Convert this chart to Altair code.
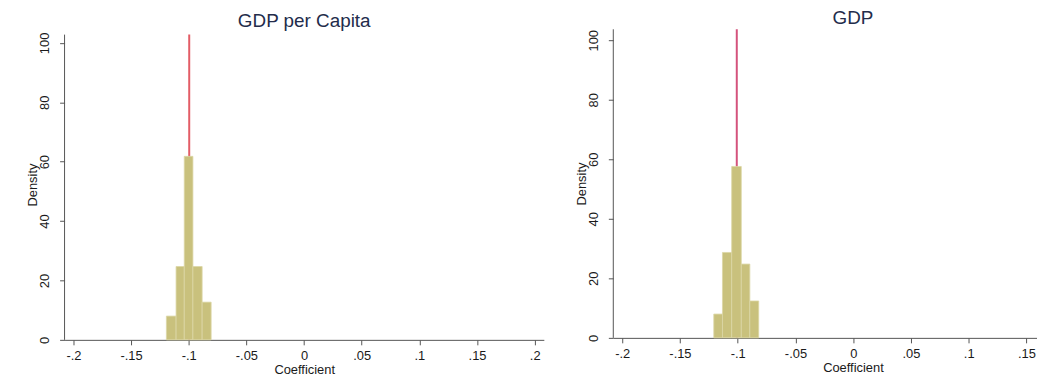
import altair as alt
import pandas as pd

# ---- data ----
x_tick_values = [-0.2, -0.15, -0.1, -0.05, 0, 0.05, 0.1, 0.15, 0.2]
y_tick_values = [0, 20, 40, 60, 80, 100]

pc_bin_start = [-0.1194, -0.1110, -0.1039, -0.0964, -0.0884]
pc_bin_end = [-0.1110, -0.1039, -0.0964, -0.0884, -0.0806]
pc_density = [8.0, 24.7, 61.8, 24.7, 12.7]
pc_line = -0.0996

gdp_bin_start = [-0.1207, -0.1132, -0.1052, -0.0969, -0.0895]
gdp_bin_end = [-0.1132, -0.1052, -0.0969, -0.0895, -0.0818]
gdp_density = [8.0, 28.7, 57.6, 24.8, 12.4]
gdp_line = -0.1008

FONT = "Liberation Sans"
AXIS_COLOR = "#555555"
TEXT_COLOR = "#1a1a1a"
BAR_FILL = "#c9c17d"
BAR_STROKE = "#dcd7a6"

LABEL_EXPR = ("replace(replace(replace(format(datum.value, '.2~f'), '\u2212', '-'), "
              "'-0.', '-.'), '0.', '.')")


def panel(title_text, starts, ends, dens, line_x, line_color,
          x_dom, y_top, axis_top, width, height, title_dx, title_dy,
          title_offset, axis_title_x):
    bars_df = pd.DataFrame({"start": starts, "end": ends, "density": dens,
                            "base": [0.0] * len(dens)})
    line_df = pd.DataFrame({"coef": [line_x], "top": [axis_top], "bottom": [0.0]})
    yline_df = pd.DataFrame({"coef": [x_dom[0]], "top": [axis_top], "bottom": [0.0]})

    xscale = alt.Scale(domain=x_dom, nice=False, zero=False)
    yscale = alt.Scale(domain=[0, y_top], nice=False, zero=False)

    xaxis_kw = dict(values=x_tick_values, labelExpr=LABEL_EXPR, title="Coefficient",
                    grid=False, labelFlush=False, labelOverlap=False,
                    tickSize=5, labelPadding=5, titlePadding=1)
    if axis_title_x is not None:
        xaxis_kw["titleX"] = axis_title_x
    xaxis = alt.Axis(**xaxis_kw)
    yaxis = alt.Axis(values=y_tick_values, title="Density", grid=False,
                     labelAngle=270, labelAlign="center", labelBaseline="bottom",
                     labelFlush=False, labelOverlap=False, domain=False,
                     tickSize=5, labelPadding=8, titlePadding=-1)

    yline = alt.Chart(yline_df).mark_rule(color=AXIS_COLOR, strokeWidth=1).encode(
        x=alt.X("coef:Q", scale=xscale, axis=xaxis),
        y=alt.Y("top:Q", scale=yscale, axis=yaxis),
        y2="bottom:Q",
    )
    red = alt.Chart(line_df).mark_rule(color=line_color, strokeWidth=2).encode(
        x=alt.X("coef:Q", scale=xscale),
        y=alt.Y("top:Q", scale=yscale),
        y2="bottom:Q",
    )
    bars = alt.Chart(bars_df).mark_bar(
        fill=BAR_FILL, stroke=BAR_STROKE, strokeWidth=0.8, opacity=1
    ).encode(
        x=alt.X("start:Q", scale=xscale),
        x2="end:Q",
        y=alt.Y("density:Q", scale=yscale),
        y2="base:Q",
    )
    return alt.layer(yline, red, bars).properties(
        width=width,
        height=height,
        title=alt.TitleParams(
            title_text, fontSize=19, font=FONT, fontWeight="normal",
            color="#232c4b", anchor="middle", offset=title_offset,
            dx=title_dx, dy=title_dy,
        ),
    )


left = panel("GDP per Capita", pc_bin_start, pc_bin_end, pc_density, pc_line,
             "#e35c66", [-0.2077, 0.2079], 104.6, 102.8, 483, 313, 0, 4, 2, None)
right = panel("GDP", gdp_bin_start, gdp_bin_end, gdp_density, gdp_line,
              "#d4527c", [-0.2077, 0.1591], 103.7, 103.7, 427, 311, 28, 0, 0, 241.5)

chart = alt.hconcat(left, right, spacing=70, bounds="flush").properties(
    padding={"left": 19, "top": 0, "right": 0, "bottom": 0},
    background="white",
).configure_view(stroke=None).configure_axis(
    domainColor=AXIS_COLOR, tickColor=AXIS_COLOR, labelColor=TEXT_COLOR,
    titleColor=TEXT_COLOR, labelFont=FONT, titleFont=FONT, labelFontSize=13,
    titleFontSize=13, titleFontWeight="normal", domainWidth=1, tickWidth=1,
)

chart.save("out.html", embed_options={"renderer": "svg", "actions": False})
